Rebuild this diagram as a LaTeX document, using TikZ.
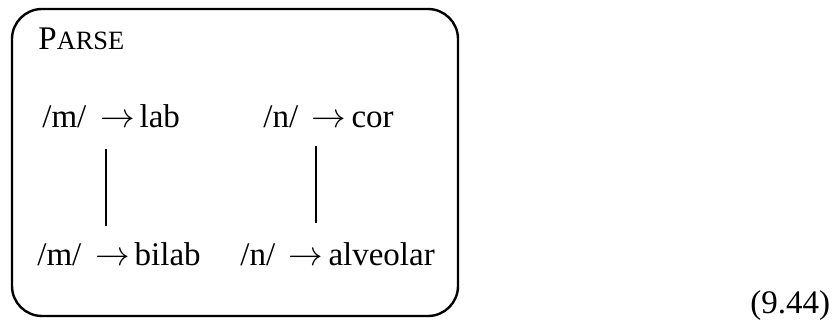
\documentclass[tikz,border=0pt]{standalone}
\usepackage{fontspec}
\setmainfont{Liberation Serif}
\newcommand{\myarr}{\,$\rightarrow$\hspace{0.15em}}
\begin{document}
\begin{tikzpicture}[x=0.5pt,y=-0.5pt,
  lbl/.style={anchor=base west,inner sep=0pt,font=\fontsize{16.5}{19}\selectfont},
  link/.style={line width=1.1pt}]
\useasboundingbox (0,0) rectangle (834,320);
\draw[line width=1.2pt,rounded corners=15pt] (12,9) rectangle (458,316);
\node[lbl] (title) at (38,50) {P{\fontsize{13.2}{15}\selectfont ARSE}};
\node[lbl] (mlab) at (42,128) {/m/ \myarr lab};
\node[lbl] (ncor) at (263,128) {/n/ \myarr cor};
\node[lbl] (mbilab) at (37,265) {/m/ \myarr bilab};
\node[lbl] (nalv) at (240,265) {/n/ \myarr alveolar};
\coordinate (a1) at (106,149); \coordinate (a2) at (106,226);
\coordinate (b1) at (316,146); \coordinate (b2) at (316,223);
\draw[link] (a1) -- (a2);
\draw[link] (b1) -- (b2);
\node[lbl] (eqno) at (750,313) {(9.44)};
\end{tikzpicture}
\end{document}
